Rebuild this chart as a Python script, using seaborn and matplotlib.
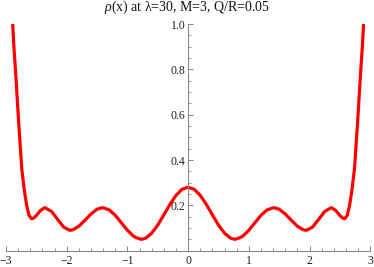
import numpy as np
import seaborn as sns
import matplotlib.pyplot as plt
from matplotlib.ticker import MultipleLocator, FixedLocator

# density curve (clipped at 1.0 at both ends)
rho_x = [-2.89, -2.87, -2.84, -2.79, -2.74, -2.70, -2.66, -2.62, -2.58, -2.55,
         -2.50, -2.43, -2.36, -2.25, -2.15, -2.05, -1.95, -1.90, -1.80, -1.70,
         -1.60, -1.50, -1.41, -1.30, -1.20, -1.10, -1.00, -0.90, -0.85, -0.77,
         -0.70, -0.60, -0.50, -0.40, -0.30, -0.20, -0.10, 0.00,
         0.10, 0.20, 0.30, 0.40, 0.50, 0.60, 0.70, 0.77, 0.85, 0.90,
         1.00, 1.10, 1.20, 1.30, 1.41, 1.50, 1.60, 1.70, 1.80, 1.90,
         1.95, 2.05, 2.15, 2.25, 2.36, 2.43, 2.50, 2.55, 2.58, 2.62,
         2.66, 2.70, 2.74, 2.79, 2.84, 2.87, 2.89]
rho_y = [1.000, 0.900, 0.780, 0.560, 0.360, 0.270, 0.200, 0.155, 0.141, 0.143,
         0.155, 0.178, 0.190, 0.173, 0.138, 0.104, 0.090, 0.092, 0.108, 0.134,
         0.162, 0.183, 0.190, 0.180, 0.156, 0.123, 0.090, 0.064, 0.057, 0.050,
         0.055, 0.077, 0.113, 0.158, 0.204, 0.244, 0.271, 0.280,
         0.271, 0.244, 0.204, 0.158, 0.113, 0.077, 0.055, 0.050, 0.057, 0.064,
         0.090, 0.123, 0.156, 0.180, 0.190, 0.183, 0.162, 0.134, 0.108, 0.092,
         0.090, 0.104, 0.138, 0.173, 0.190, 0.178, 0.155, 0.143, 0.141, 0.155,
         0.200, 0.270, 0.360, 0.560, 0.780, 0.900, 1.000]

x_ticks = [-3, -2, -1, 0, 1, 2, 3]
x_tick_labels = ["\u22123", "\u22122", "\u22121", "0", "1", "2", "3"]
y_ticks = [0.2, 0.4, 0.6, 0.8, 1.0]
y_tick_labels = ["0.2", "0.4", "0.6", "0.8", "1.0"]
titulo = "$\\rho$(x) at \u03bb=30, M=3, Q/R=0.05"

sns.set_style("ticks")
plt.rcParams["font.family"] = ["Liberation Serif", "DejaVu Serif"]
plt.rcParams["mathtext.fontset"] = "custom"
plt.rcParams["mathtext.rm"] = "Liberation Serif"
plt.rcParams["mathtext.it"] = "Liberation Serif:italic"

fig = plt.figure(figsize=(3.74, 2.67), dpi=100)
ax = fig.add_axes([0, 0, 1, 1])
ax.patch.set_alpha(0)

sns.lineplot(x=rho_x, y=rho_y, ax=ax, color="#ff0000", linewidth=2.3,
             sort=False, estimator=None, solid_joinstyle="round",
             solid_capstyle="butt", clip_on=False)

ax.set_xlim(-3.099, 3.062)
ax.set_ylim(-0.072, 1.106)

# axes through the origin, mathematica style
axis_col = "#888888"
for s in ["top", "right"]:
    ax.spines[s].set_visible(False)
ax.spines["left"].set_position(("data", 0))
ax.spines["bottom"].set_position(("data", 0))
ax.spines["left"].set_bounds(0, 1.0)
ax.spines["bottom"].set_bounds(-3, 3)
for s in ["left", "bottom"]:
    ax.spines[s].set_color(axis_col)
    ax.spines[s].set_linewidth(0.8)

ax.xaxis.set_major_locator(FixedLocator(x_ticks))
ax.set_xticklabels(x_tick_labels)
ax.xaxis.set_minor_locator(MultipleLocator(0.2))
ax.yaxis.set_major_locator(FixedLocator(y_ticks))
ax.set_yticklabels(y_tick_labels)
ax.yaxis.set_minor_locator(FixedLocator(np.arange(0.05, 1.0, 0.05)))

ax.tick_params(which="major", direction="in", length=3.5, width=0.7,
               color=axis_col, labelsize=8.5, labelcolor="#222222")
ax.tick_params(which="minor", direction="in", length=2, width=0.6,
               color=axis_col)
ax.tick_params(axis="x", which="major", pad=3)
ax.tick_params(axis="y", which="major", pad=2)

fig.text(0.5, 0.958, titulo, ha="center", va="baseline", fontsize=10, color="#111111")

fig.savefig("out.png", dpi=100)
